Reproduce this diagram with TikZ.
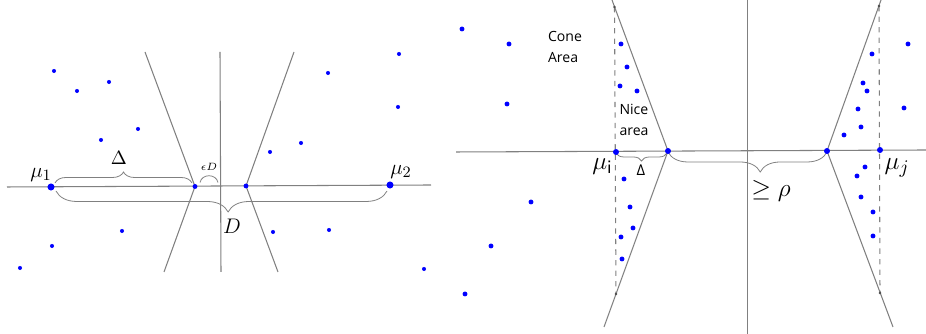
\documentclass[tikz,border=0pt]{standalone}
\usepackage{fontspec}
\newfontfamily\conefont{Open Sans}
\usetikzlibrary{decorations.pathreplacing}
\begin{document}
\begin{tikzpicture}[line width=.6pt,
	gline/.style={gray},
	brc/.style={gray,line width=.45pt,decorate,decoration={brace,amplitude=#1}},
	tag/.style={inner sep=0pt}]
	\useasboundingbox (0,0) rectangle (18.52,6.68);
	\coordinate (L0) at (0.14,2.94);
	\coordinate (L1) at (8.62,2.98);
	\coordinate (M1) at (1.02,2.94);
	\coordinate (M2) at (7.80,2.98);
	\coordinate (V1) at (3.90,2.95);
	\coordinate (V2) at (4.92,2.96);
	\coordinate (A1) at (2.90,5.64);
	\coordinate (B1) at (3.28,1.24);
	\coordinate (A2) at (5.88,5.64);
	\coordinate (B2) at (5.56,1.24);
	\coordinate (T0) at (4.40,5.64);
	\coordinate (T1) at (4.42,1.24);
	\coordinate (R0) at (9.12,3.64);
	\coordinate (R1) at (18.52,3.68);
	\coordinate (Mi) at (12.32,3.64);
	\coordinate (Vi) at (13.36,3.66);
	\coordinate (Vj) at (16.54,3.66);
	\coordinate (Mj) at (17.60,3.68);
	\coordinate (Ci) at (12.24,6.68);
	\coordinate (Di) at (12.08,0.14);
	\coordinate (Cj) at (17.62,6.68);
	\coordinate (Dj) at (17.86,0.14);
	\coordinate (Pi) at (12.29,6.54);
	\coordinate (Qi) at (12.32,0.80);
	\coordinate (Pj) at (17.58,6.56);
	\coordinate (Qj) at (17.60,0.82);
	\coordinate (S0) at (14.95,6.68);
	\coordinate (S1) at (14.95,0);
	\draw[gline] (L0)--(L1);
	\draw[gline] (A1)--(V1)--(B1);
	\draw[gline] (A2)--(V2)--(B2);
	\draw[gline] (T0)--(T1);
	\draw[gline] (R0)--(R1);
	\draw[gline] (Ci)--(Vi)--(Di);
	\draw[gline] (Cj)--(Vj)--(Dj);
	\draw[gline,line width=.5pt] (S0)--(S1);
	\draw[gline,dashed] (Pi)--(Qi);
	\draw[gline,dashed] (Pj)--(Qj);
	\draw[brc=.22cm] ([shift={(.08,.08)}]M1)--([shift={(-.06,.07)}]V1);
	\draw[gray,line width=.45pt] ([shift={(.10,.08)}]V1) .. controls ([shift={(.14,.26)}]V1) and ([shift={(.42,.26)}]V1) .. ([shift={(.46,.08)}]V1);
	\draw[brc=.42cm,decoration={aspect=.48}] ([shift={(-.06,-.12)}]M2)--([shift={(.10,-.08)}]M1);
	\draw[brc=.16cm] ([shift={(-.02,-.04)}]Vi)--([shift={(0,-.02)}]Mi);
	\draw[brc=.40cm,decoration={aspect=.42}] ([shift={(0,-.02)}]Vj)--([shift={(0,-.02)}]Vi);
	\node[tag,font=\fontsize{12.5}{14}\selectfont] (lm1) at (0.82,3.18) {$\mu_1$};
	\node[tag,font=\fontsize{12.5}{14}\selectfont] (lm2) at (8.02,3.24) {$\mu_2$};
	\node[tag,font=\fontsize{11}{13}\selectfont] (ldl) at (2.38,3.52) {$\Delta$};
	\node[tag,font=\fontsize{6.5}{8}\selectfont] (leps) at (4.18,3.34) {$\epsilon D$};
	\node[tag,font=\fontsize{13}{15}\selectfont] (lD) at (4.64,2.16) {$D$};
	\node[tag,font=\fontsize{15.5}{17}\selectfont] (lmi) at (12.05,3.34) {$\mu_{\mathsf{i}}$};
	\node[tag,font=\fontsize{15.5}{17}\selectfont] (lmj) at (17.94,3.32) {$\mu_j$};
	\node[tag,font=\conefont\fontsize{8.5}{10}\selectfont] (ldr) at (12.82,3.28) {Δ};
	\node[tag,font=\fontsize{15.5}{17}\selectfont] (lrho) at (15.42,2.86) {$\geq\rho$};
	\node[tag,align=left,font=\conefont\fontsize{8}{12}\selectfont] (lcone) at (11.30,5.74) {Cone\\Area};
	\node[tag,align=left,font=\conefont\fontsize{8}{12}\selectfont] (lnice) at (12.68,4.28) {Nice\\area};
	\foreach \p in {(1.08,5.26),(1.54,4.86),(2.18,5.04),(2.76,4.10),(2.02,3.88),(2.44,2.06),(1.04,1.76),(0.40,1.32),
		(6.56,5.22),(7.98,5.60),(7.96,4.54),(6.02,3.82),(5.40,3.64),(5.46,2.04),(6.58,2.08),(8.48,1.30)}
		\fill[blue] \p circle (1.15pt);
	\foreach \p in {(9.24,6.10),(10.18,5.80),(10.14,4.60),(12.42,5.80),(12.54,5.34),(12.40,4.96),(12.74,4.86),
		(12.48,3.10),(12.60,2.54),(12.66,2.12),(12.42,1.94),(12.44,1.50),(10.62,2.64),(9.82,1.76),(9.30,0.80),
		(18.16,5.80),(17.44,5.60),(17.26,5.02),(17.34,4.86),(17.16,4.50),(18.08,4.52),(17.22,4.14),(16.88,3.98),
		(17.30,3.34),(17.14,3.16),(17.22,2.74),(17.46,2.44),(17.46,1.96)}
		\fill[blue] \p circle (1.4pt);
	\foreach \i in {M1,M2} \fill[blue] (\i) circle (2pt);
	\foreach \i in {V1,V2} \fill[blue] (\i) circle (1.4pt);
	\foreach \i in {Mi,Vi,Vj,Mj} \fill[blue] (\i) circle (1.7pt);
	\foreach \i in {Pi,Qi,Pj,Qj} \fill[black!70] (\i) circle (.8pt);
\end{tikzpicture}
\end{document}
